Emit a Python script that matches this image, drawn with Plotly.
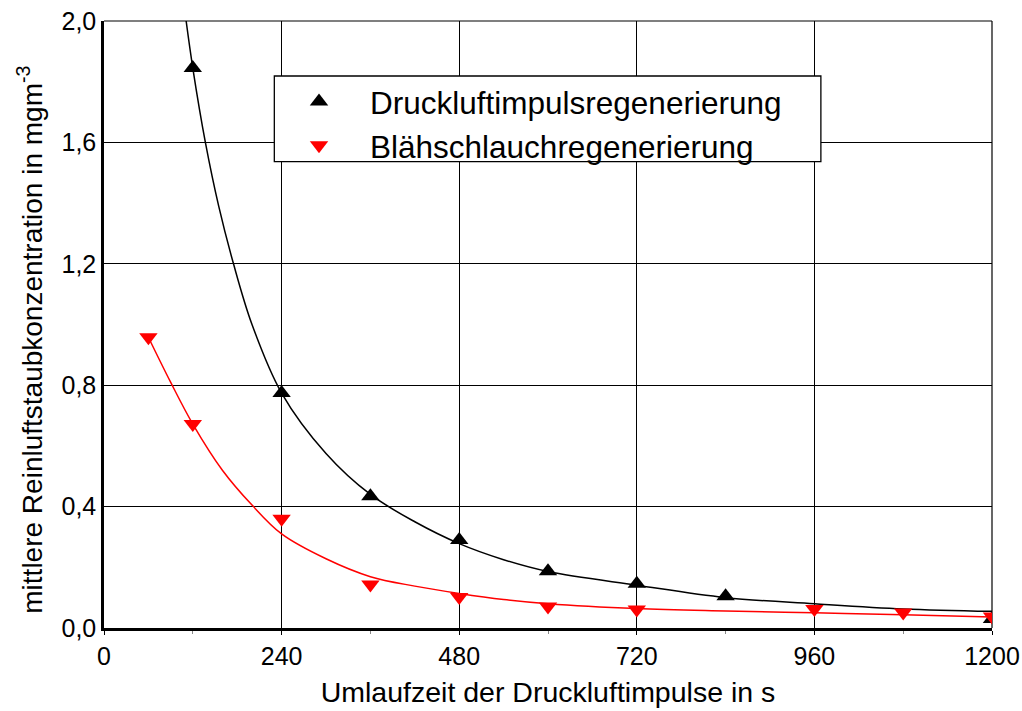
import plotly.graph_objects as go

# Measured points
x_druckluft = [120, 240, 360, 480, 600, 720, 840, 1200]
y_druckluft = [1.845, 0.774, 0.434, 0.29, 0.187, 0.146, 0.105, 0.03]

x_blaeh = [60, 120, 240, 360, 480, 600, 720, 960, 1080, 1200]
y_blaeh = [0.958, 0.672, 0.36, 0.143, 0.102, 0.071, 0.061, 0.063, 0.051, 0.038]

# Fitted trend curves
x_fit_druckluft = [111, 120, 137, 155, 175, 200, 240, 300, 360, 420, 480, 540, 600, 720, 840, 960, 1080, 1200]
y_fit_druckluft = [2.0, 1.845, 1.6, 1.39, 1.2, 1.0, 0.774, 0.575, 0.44, 0.35, 0.278, 0.225, 0.186, 0.141, 0.10, 0.08, 0.063, 0.055]

x_fit_blaeh = [60, 90, 120, 160, 200, 240, 300, 360, 420, 480, 540, 600, 720, 840, 960, 1080, 1200]
y_fit_blaeh = [0.958, 0.81, 0.672, 0.52, 0.405, 0.31, 0.228, 0.169, 0.138, 0.114, 0.094, 0.08, 0.064, 0.056, 0.05, 0.044, 0.036]

x_ticks = [0, 240, 480, 720, 960, 1200]
x_minor = [120, 360, 600, 840, 1080]
y_ticks = [0.0, 0.4, 0.8, 1.2, 1.6, 2.0]

FONT = "Liberation Sans, Arial, sans-serif"

fig = go.Figure()

fig.add_trace(go.Scatter(x=x_fit_druckluft, y=y_fit_druckluft, mode="lines",
                         line=dict(color="black", width=1.5, shape="spline", smoothing=1.0),
                         showlegend=False, hoverinfo="skip"))
fig.add_trace(go.Scatter(x=x_fit_blaeh, y=y_fit_blaeh, mode="lines",
                         line=dict(color="#ff0000", width=1.5, shape="spline", smoothing=1.0),
                         showlegend=False, hoverinfo="skip"))

fig.add_trace(go.Scatter(x=x_druckluft, y=y_druckluft, mode="markers",
                         name="Druckluftimpulsregenerierung",
                         marker=dict(symbol="triangle-up", size=16, color="black")))
fig.add_trace(go.Scatter(x=x_blaeh, y=y_blaeh, mode="markers",
                         name="Blähschlauchregenerierung",
                         marker=dict(symbol="triangle-down", size=16, color="#ff0000")))

fig.update_xaxes(
    range=[0, 1200], tickvals=x_ticks, ticks="outside", ticklen=4, tickwidth=1.2,
    tickcolor="black", showgrid=True, gridcolor="black", gridwidth=1.2,
    showline=True, linecolor="black", linewidth=2.5, zeroline=False,
    automargin=False,
    tickfont=dict(size=25, family=FONT, color="black"),
    title=dict(text="Umlaufzeit der Druckluftimpulse in s",
               font=dict(size=28.5, family=FONT, color="black"), standoff=14),
    minor=dict(tickvals=x_minor, ticks="outside", ticklen=3, tickcolor="#888", showgrid=False),
)
fig.update_yaxes(
    range=[0, 2.0], tickvals=y_ticks, tickformat=".1f", ticks="",
    showgrid=True, gridcolor="black", gridwidth=1.2,
    showline=True, linecolor="black", linewidth=2.5, zeroline=False,
    automargin=False,
    tickfont=dict(size=25, family=FONT, color="black"),
)

# Frame lines on the top and right edges of the plot area
fig.add_shape(type="line", xref="paper", yref="paper", x0=0, x1=1, y0=1, y1=1,
              line=dict(color="black", width=1.2), layer="below")
fig.add_shape(type="line", xref="paper", yref="paper", x0=1, x1=1, y0=0, y1=1,
              line=dict(color="black", width=1.2), layer="below")

# Legend frame
fig.add_shape(type="rect", xref="paper", yref="paper",
              x0=0.1918, x1=0.8073, y0=0.7682, y1=0.9094,
              line=dict(color="black", width=1.3), fillcolor="white", layer="above")

fig.add_annotation(
    text="mittlere Reinluftstaubkonzentration in mgm<sup>-3</sup>",
    xref="paper", yref="paper", x=-0.0833, y=0.475, textangle=-90,
    xanchor="center", yanchor="middle", showarrow=False,
    font=dict(size=28, family=FONT, color="black"),
)

fig.update_layout(
    width=1022, height=711,
    margin=dict(l=104, r=30, t=21, b=83),
    paper_bgcolor="white", plot_bgcolor="white",
    separators=",.",
    font=dict(family=FONT, color="black"),
    legend=dict(x=0.1847, y=0.912, xanchor="left", yanchor="top",
                bgcolor="rgba(0,0,0,0)", borderwidth=0, itemwidth=92,
                font=dict(size=31.5, family=FONT, color="black")),
)

fig.write_html("out.html")
